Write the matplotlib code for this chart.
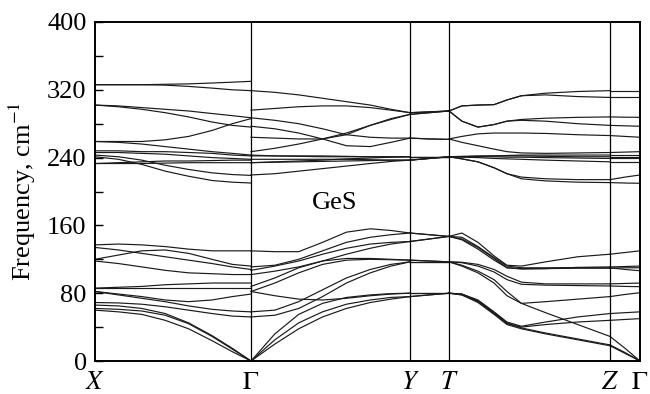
import matplotlib
matplotlib.use("Agg")
import matplotlib.pyplot as plt
import numpy as np
from matplotlib.ticker import MultipleLocator

plt.rcParams['font.family'] = ['Liberation Serif', 'DejaVu Serif']
plt.rcParams['mathtext.fontset'] = 'stix'

# high-symmetry points along the path (path length units)
kpts = [0, 156, 315, 354, 515, 545]
klabels = ['$X$', r'$\Gamma$', '$Y$', '$T$', '$Z$', r'$\Gamma$']

# fractional positions of samples inside each segment
t_xg = [0, .15, .3, .45, .6, .75, .88, 1]
t_gy = [0, .15, .3, .45, .6, .75, .88, 1]
t_yt = [0, .5, 1]
t_tz = [0, .08, .18, .28, .36, .45, .6, .8, 1]
t_zg = [0, .5, 1]

# frequencies (cm^-1) of the branches on each segment
x_gamma = [
    [326, 326, 326, 326.5, 327, 328, 329, 330],
    [326, 326, 326, 325.5, 324, 322, 320, 319],
    [302, 301, 299, 297, 295, 292, 289.5, 287],
    [302, 300, 297, 293, 288, 282, 278, 276],
    [259, 259, 259, 261, 265, 272, 280, 286],
    [259, 258, 256, 253, 250, 247, 245, 243],
    [248, 248, 247, 247, 246, 245, 243, 242],
    [246, 246, 245, 244, 242, 240, 239, 238],
    [243, 241, 237, 231, 226, 222, 220, 219],
    [241, 238, 232, 224, 218, 213, 211, 210],
    [233, 233, 233, 233.5, 234, 234, 234, 234],
    [233, 234, 235, 236, 236, 236.5, 237, 237],
    [137, 138, 137, 135, 132, 130, 130, 130],
    [134, 131, 127, 123, 119, 115, 111, 108],
    [120, 125, 130, 131, 127, 120, 114, 112],
    [118, 115, 111, 107, 104, 103, 102, 102],
    [86, 87, 88, 90, 91, 92, 92, 92],
    [86, 86, 86, 86, 86, 86, 86, 86],
    [82, 79, 76, 72, 70, 72, 76, 79],
    [82, 78, 74, 70, 65, 61, 59, 58],
    [69, 68.5, 67, 64, 60, 56, 53, 52],
    [66, 65, 62, 56, 45, 30, 15, 0],
    [62, 61, 59, 54, 44, 29, 14, 0],
    [60, 58, 55, 48, 38, 24, 11, 0],
]

gamma_y = [
    [319, 317, 314, 310, 306, 302, 297, 293],
    [296, 298, 300, 301, 301, 299, 296, 293],
    [287, 284, 280, 274, 267, 264, 263, 263],
    [277, 274, 269, 262, 254, 253, 258, 263],
    [264, 263, 262, 262, 267, 278, 286, 291],
    [247, 251, 256, 262, 269, 278, 285, 291],
    [243, 242, 242, 242, 241.5, 241, 241, 241],
    [242, 242, 241.5, 241, 241, 241, 241, 241],
    [238, 238, 238, 238, 238, 237.5, 237, 237],
    [234, 234.5, 235, 235.5, 236, 236.5, 237, 237],
    [219.5, 221, 224, 227, 230, 233, 235.5, 237],
    [234, 235, 236, 237, 238.5, 239.5, 240.5, 241],
    [130, 129, 129, 140, 152, 156, 154, 151],
    [111, 113, 120, 130, 140, 146, 149, 151],
    [107, 112, 118, 126, 133, 138, 140, 141],
    [102, 106, 111, 118, 126, 133, 138, 141],
    [88, 98, 110, 118, 121, 121, 120, 119],
    [82, 92, 104, 114, 119, 120, 119.5, 119],
    [58, 60, 70, 84, 98, 108, 114, 117],
    [52, 54, 62, 76, 92, 104, 112, 117],
    [82, 77, 73, 72, 74, 77, 79, 80],
    [0, 32, 55, 68, 75, 78, 79.5, 80],
    [0, 25, 45, 58, 67, 72, 75, 76],
    [0, 20, 38, 52, 62, 69, 73, 76],
]

y_t = [
    [293, 294, 295], [293, 294, 295], [263, 262, 261.5], [263, 262, 261.5],
    [291, 293, 295], [291, 293, 295], [241, 241, 241], [241, 241, 241],
    [237, 239, 241], [237, 239, 241], [237, 239, 241], [241, 241, 241],
    [151, 149, 147], [151, 149, 147], [141, 144, 147], [141, 144, 147],
    [119, 118, 117], [119, 118, 117], [117, 117, 117], [117, 117, 117],
    [80, 80, 80], [80, 80, 80], [76, 78, 80], [76, 78, 80],
]

t_z = [
    [295, 301, 302, 302.5, 308, 313, 316, 318, 319],
    [295, 301, 302, 302.5, 308, 313, 314, 312, 311],
    [295, 283, 276, 279, 283, 285, 286.5, 287.5, 288],
    [295, 283, 276, 279, 283, 284, 283, 280, 278],
    [262, 265, 268, 269, 269, 269, 268.5, 267, 266],
    [262, 258, 254, 250, 247, 245.5, 245, 245.5, 246],
    [241, 241.5, 242, 242, 242.5, 243, 243, 243, 243],
    [241, 241, 241, 241, 240.5, 240.5, 240, 239.5, 239],
    [241, 240.5, 240, 239, 238.5, 238, 237, 236, 235],
    [241, 238.5, 235, 228, 221, 217, 215, 214, 214],
    [241, 238.5, 235, 228, 221, 215, 212.5, 211, 210.5],
    [241, 241, 241.5, 242, 242, 242, 241.5, 241, 241],
    [147, 151, 140, 124, 113, 112, 117, 123, 126],
    [147, 144, 134, 121, 110, 108.5, 109, 110.5, 111],
    [147, 146, 135, 122, 112, 110, 110, 110, 110],
    [147, 143, 132, 119, 110, 109, 109, 109.5, 109.5],
    [117, 116.5, 114, 108, 100, 93, 91, 91, 91],
    [117, 116, 112, 105, 96, 90.5, 89.5, 89, 88.5],
    [117, 112, 104, 92, 77, 68, 70, 73, 76],
    [117, 113, 106, 96, 82, 68, 57, 43, 29],
    [80, 79, 72, 58, 46, 41, 46, 52, 56],
    [80, 78, 70, 56, 44, 40, 43, 46, 48],
    [80, 79, 71, 57, 45, 39, 33, 26, 19],
    [80, 78, 69, 55, 43, 38, 32, 25, 18],
]

z_gamma = [
    [319, 319, 319], [311, 311, 311], [288, 287.7, 287.5], [278, 277.5, 277],
    [266, 265, 264], [246, 246.5, 247], [243, 243, 243], [239, 239, 239],
    [235, 235, 235], [214, 217, 219.5], [210.5, 210, 209.7], [241, 241, 241],
    [126, 128, 130], [111, 111.5, 112], [110, 108, 106.5], [109.5, 110, 110],
    [91, 91.5, 92], [88.5, 88, 87.7], [76, 78.5, 80.6], [29, 15, 0],
    [56, 57, 58], [48, 49, 50], [19, 10, 0], [18, 9, 0],
]

segments = [(t_xg, x_gamma), (t_gy, gamma_y), (t_yt, y_t), (t_tz, t_z), (t_zg, z_gamma)]

fig = plt.figure(figsize=(6.5, 3.94), dpi=100)
ax = fig.add_axes([95/650, 33/394, 545/650, 339/394])

for i, (tt, branches) in enumerate(segments):
    k0, k1 = kpts[i], kpts[i+1]
    kx = k0 + np.array(tt) * (k1 - k0)
    for b in branches:
        ax.plot(kx, b, color='#1a1a1a', lw=0.85)

for k in kpts[1:-1]:
    ax.axvline(k, color='black', lw=0.9)

ax.set_xlim(kpts[0], kpts[-1])
ax.set_ylim(0, 400)
ax.set_xticks(kpts)
ax.set_xticklabels(klabels, fontsize=19)
ax.tick_params(axis='x', length=0, pad=8)
ax.yaxis.set_major_locator(MultipleLocator(80))
ax.yaxis.set_minor_locator(MultipleLocator(40))
ax.tick_params(axis='y', which='both', direction='in', length=6, width=1, labelsize=19, pad=6)
for s in ax.spines.values():
    s.set_linewidth(1.4)

ax.set_ylabel('Frequency, cm$^{-1}$', fontsize=19, va='center')
ax.yaxis.set_label_coords(-0.133, 0.5)

ax.text(240, 186, 'GeS', fontsize=19, ha='center', va='center')

fig.savefig('out.png', dpi=100)
